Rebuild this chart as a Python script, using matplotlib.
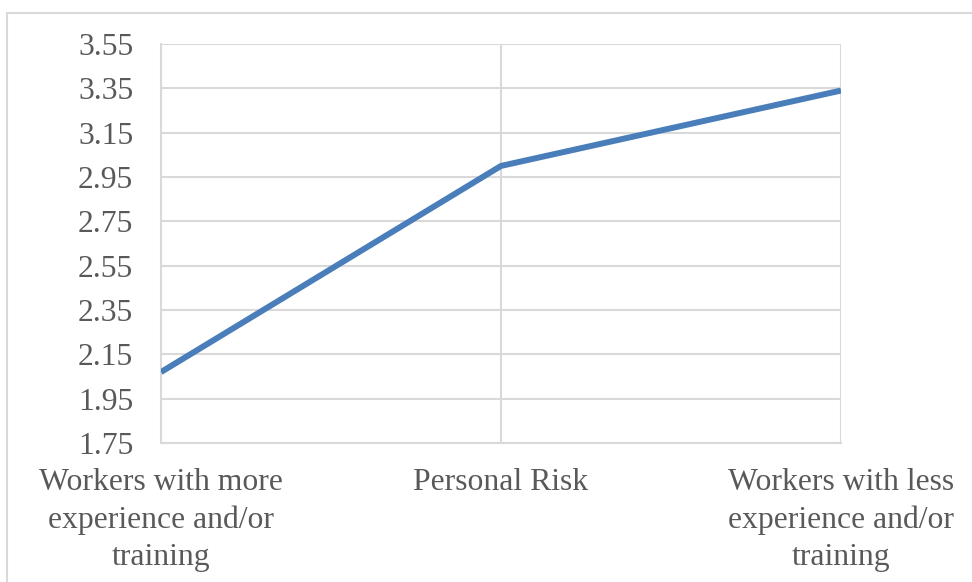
import matplotlib.pyplot as plt
from matplotlib.patches import Rectangle

# categories and mean scores
categories = ['Workers with more\nexperience and/or\ntraining',
              'Personal Risk',
              'Workers with less\nexperience and/or\ntraining']
scores = [2.07, 3.00, 3.34]
yticks = [1.75, 1.95, 2.15, 2.35, 2.55, 2.75, 2.95, 3.15, 3.35, 3.55]

plt.rcParams['font.family'] = ['Liberation Serif', 'DejaVu Serif']
grid_col = '#d9d9d9'
text_col = '#595959'

fig = plt.figure(figsize=(9.72, 5.82), dpi=100)
ax = fig.add_axes([161 / 972, 1 - 443 / 582, (841 - 161) / 972, (443 - 44) / 582])

# outer chart frame
fig.patches.append(Rectangle((7 / 972, -0.1), 1.1, 1 - 13 / 582 + 0.1,
                             transform=fig.transFigure, fill=False,
                             edgecolor=grid_col, linewidth=1.5))

x = list(range(len(categories)))
ax.plot(x, scores, color='#4a7ebb', linewidth=4.3, solid_capstyle='butt', zorder=3)

ax.set_xlim(0, 2)
ax.set_ylim(1.75, 3.55)
ax.set_yticks(yticks)
ax.set_yticklabels([f'{v:.2f}' for v in yticks])
ax.set_xticks(x)
ax.set_xticklabels(categories, linespacing=1.38)
ax.grid(True, color=grid_col, linewidth=1.5)
ax.set_axisbelow(True)
for side in ['top', 'right']:
    ax.spines[side].set_visible(False)
for side in ['left', 'bottom']:
    ax.spines[side].set_color(grid_col)
    ax.spines[side].set_linewidth(1.5)
ax.tick_params(axis='both', length=0, labelsize=22.8, colors=text_col)
ax.tick_params(axis='y', pad=20)
ax.tick_params(axis='x', pad=18)

plt.savefig('out.png', dpi=100)
